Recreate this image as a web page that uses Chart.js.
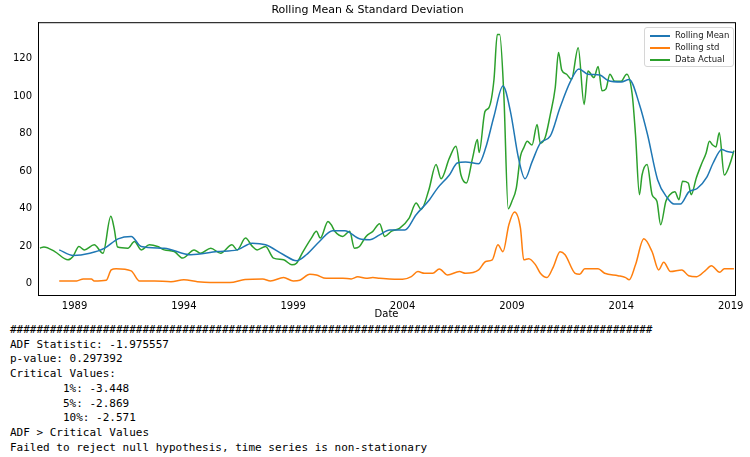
<!DOCTYPE html>
<html>
<head>
<meta charset="utf-8">
<script src="https://cdn.jsdelivr.net/npm/chart.js@4.4.1/dist/chart.umd.min.js"></script>
<style>
  body { margin: 0; background: #fff; width: 750px; height: 457px; overflow: hidden; font-family: "DejaVu Sans", sans-serif; }
  #wrap { position: relative; width: 750px; height: 320px; }
  #legend { position: absolute; left: 644px; top: 27px; width: 88px; height: 38px; border: 1px solid #d6d6d6; border-radius: 3px; background: rgba(255,255,255,0.85); font-size: 8.5px; color: #222; }
  .row { position: absolute; left: 5px; height: 12px; line-height: 12px; white-space: nowrap; }
  .row i { display: inline-block; width: 20px; height: 0; border-top: 2px solid; vertical-align: middle; margin-right: 5px; }
  pre { margin: 0; padding: 0 0 0 10px; font-family: "DejaVu Sans Mono", monospace; font-size: 11px; line-height: 14.7px; tab-size: 8; color: #000; margin-top: 3px; }
</style>
</head>
<body>
<div id="wrap">
  <canvas id="grafico" width="750" height="320"></canvas>
  <div id="legend">
    <div class="row" style="top:1px"><i style="border-color:#1f77b4"></i>Rolling Mean</div>
    <div class="row" style="top:13px"><i style="border-color:#ff7f0e"></i>Rolling std</div>
    <div class="row" style="top:25px"><i style="border-color:#2ca02c"></i>Data Actual</div>
  </div>
</div>
<pre>#################################################################################################
ADF Statistic: -1.975557
p-value: 0.297392
Critical Values:
	1%: -3.448
	5%: -2.869
	10%: -2.571
ADF &gt; Critical Values
Failed to reject null hypothesis, time series is non-stationary</pre>
<script>
const fechasActual = [1987.42,1987.6,1988.1,1988.7,1988.93,1989.2,1989.45,1989.9,1990.3,1990.66,1990.81,1990.97,1991.44,1991.74,1992.05,1992.42,1992.8,1993.1,1993.56,1993.94,1994.47,1994.77,1995.23,1995.68,1996.2,1996.44,1996.82,1997.12,1997.35,1997.73,1998.1,1998.56,1998.94,1999.15,1999.45,1999.83,2000.06,2000.24,2000.59,2000.74,2000.9,2001.27,2001.58,2001.8,2002.03,2002.33,2002.64,2002.95,2003.18,2003.5,2003.86,2004.3,2004.62,2004.85,2005.2,2005.53,2005.76,2006.14,2006.44,2006.67,2006.92,2007.2,2007.42,2007.5,2007.77,2007.95,2008.18,2008.33,2008.44,2008.63,2008.83,2009.0,2009.2,2009.39,2009.54,2009.7,2009.92,2010.15,2010.3,2010.52,2010.75,2010.98,2011.13,2011.28,2011.5,2011.72,2012.03,2012.3,2012.48,2012.75,2012.94,2013.12,2013.3,2013.48,2013.7,2013.98,2014.25,2014.5,2014.65,2014.83,2014.95,2015.18,2015.41,2015.63,2015.8,2016.04,2016.22,2016.45,2016.64,2016.8,2017.06,2017.2,2017.43,2017.66,2017.88,2018.03,2018.18,2018.33,2018.48,2018.71,2019.0,2019.15]
const valoresActual = [18.9,19.6,17.1,12.7,14.5,19.8,18,20.7,16.2,35.9,29.6,19.5,18.9,22.5,18,20.7,19.8,18,17.1,13.6,18,16.2,18.9,16.2,20.7,18,24.3,20,18,19.8,13.6,12.7,10,10.9,17.1,24.3,27.9,24.3,33.2,31.4,27.9,25.2,27.9,18.9,19.8,25.2,27.9,32,25.2,28,29.5,35,43,39.6,50,63.6,56,67,73.4,58,53.7,67,77,70,92,94,109,133,133,101,40,44,51,68,72.5,76,74,85,75,78,90,104.6,123.4,114,111.8,109,126,95.7,113.6,110,116,103,104,111.8,108,108,111.8,101,79.6,47.5,58,63.6,47.5,44,31.4,44,47.5,49,44.8,54.6,53.7,47.5,56.4,63.6,69.8,76,74,73,80.5,58,65,71]
const fechasMedia = [1988.3,1988.94,1989.7,1990.38,1990.99,1991.59,1992.05,1993.1,1994.32,1995.53,1996.44,1997.12,1997.73,1998.56,1999.15,1999.6,2000.2,2000.8,2001.36,2002.03,2002.5,2002.95,2003.41,2004.1,2004.62,2005.23,2005.6,2006.14,2006.5,2006.88,2007.48,2007.8,2008.18,2008.59,2008.93,2009.3,2009.6,2009.92,2010.3,2010.75,2011.2,2011.66,2012.06,2012.48,2013.01,2013.4,2014.0,2014.36,2014.83,2015.2,2015.66,2016.11,2016.41,2016.7,2017.09,2017.47,2017.92,2018.2,2018.6,2018.8,2019.15]
const valoresMedia = [18,15,16.2,18.9,23.9,25.2,19.8,18.9,15.4,17.1,18,21.6,20.7,15.4,12.2,15.4,22.5,28.2,28.2,23.9,23.4,26,28.6,28.6,36.8,44.8,51,58,64.4,65,64,72.5,89.4,105.5,92,67,56,65,75,78.7,94,107.6,114.6,111.8,111.4,108.5,107.7,109,95.7,79.6,55.5,45.7,42.5,42.5,49,50.8,57,64.4,71.6,70.7,70]
const fechasStd = [1988.3,1989.1,1989.4,1989.77,1989.9,1990.45,1990.68,1990.9,1991.59,1991.97,1992.65,1993.41,1994.0,1994.62,1995.2,1996.1,1996.8,1997.6,1997.96,1998.56,1999.0,1999.3,1999.76,2000.06,2000.5,2001.27,2001.65,2001.95,2002.33,2002.64,2002.95,2004.0,2004.4,2004.7,2005.0,2005.38,2005.68,2006.06,2006.6,2006.88,2007.48,2007.8,2008.1,2008.36,2008.59,2008.86,2009.12,2009.39,2009.54,2009.77,2010.08,2010.3,2010.6,2010.9,2011.2,2011.43,2011.89,2012.1,2012.33,2012.94,2013.24,2013.85,2014.2,2014.36,2014.65,2015.03,2015.41,2015.71,2015.94,2016.25,2016.77,2017.08,2017.45,2017.83,2018.12,2018.5,2018.71,2019.15]
const valoresStd = [1.4,1.4,2.5,2.5,1.4,1.8,7.3,7.9,6.8,1.4,1.4,1,2,1,0.6,0.6,2.2,2.5,1.4,3.2,1.4,1.8,5,4.6,2.8,2.8,2.5,3.6,2.8,3.2,2.9,2.3,3.7,6.4,5.5,5.5,7.8,4.6,6.4,5.5,7.3,11.8,12.7,20.7,17,31.4,38.2,29.6,12.7,13.3,10,5.5,3.2,9.1,17,15.4,5.5,5,7.9,7.9,5.5,4.2,3.2,2,10,23.9,17,7.3,11.4,6.4,7.3,4.2,3.7,6.8,9.5,6,7.9,7.9]
const ticksY = [0, 20, 40, 60, 80, 100, 120]
const etiquetasX = [1989, 1994, 1999, 2004, 2009, 2014, 2019]

const puntos = (fechas, valores) => fechas.map((f, i) => ({ x: f, y: valores[i] }))

const serie = (label, color, data) => ({
    label, data, borderColor: color, backgroundColor: color,
    borderWidth: 1.5, pointRadius: 0, cubicInterpolationMode: 'monotone', fill: false
})

new Chart(document.querySelector('#grafico'), {
    type: 'line',
    data: {
        datasets: [
            serie('Rolling Mean', '#1f77b4', puntos(fechasMedia, valoresMedia)),
            serie('Rolling std', '#ff7f0e', puntos(fechasStd, valoresStd)),
            serie('Data Actual', '#2ca02c', puntos(fechasActual, valoresActual))
        ]
    },
    options: {
        responsive: false,
        animation: false,
        layout: { padding: { left: 0, right: 15, top: 0, bottom: 0 } },
        plugins: {
            legend: { display: false },
            tooltip: { enabled: false },
            title: { display: true, text: 'Rolling Mean & Standard Deviation', color: '#000',
                font: { family: 'DejaVu Sans', size: 11, weight: 'normal' }, padding: { top: 4, bottom: 5 } }
        },
        scales: {
            x: {
                type: 'linear', min: 1987.33, max: 2019.2,
                afterBuildTicks: (s) => {
                    const t = []
                    for (let y = 1988; y <= 2019; y++) t.push({ value: y })
                    s.ticks = t
                },
                ticks: { autoSkip: false, maxRotation: 0, color: '#000', padding: 2,
                    font: { family: 'DejaVu Sans', size: 10 },
                    callback: (v) => etiquetasX.includes(v) ? String(v) : '' },
                grid: { display: false, drawTicks: true, tickLength: 3, tickColor: '#000' },
                border: { color: '#000', width: 1 },
                title: { display: true, text: 'Date', color: '#000', padding: 0,
                    font: { family: 'DejaVu Sans', size: 10 } },
                afterFit: (s) => { s.height = 25 }
            },
            y: {
                min: -6.1, max: 139.6,
                afterBuildTicks: (s) => { s.ticks = ticksY.map(v => ({ value: v })) },
                ticks: { color: '#000', padding: 3, font: { family: 'DejaVu Sans', size: 10 } },
                grid: { display: false, drawTicks: true, tickLength: 3, tickColor: '#000' },
                border: { color: '#000', width: 1 },
                afterFit: (s) => { s.width = 38 }
            }
        }
    },
    plugins: [{
        id: 'marco',
        afterDraw(c) {
            const a = c.chartArea, ctx = c.ctx
            ctx.save()
            ctx.strokeStyle = '#000'
            ctx.lineWidth = 1
            ctx.strokeRect(a.left + 0.5, a.top + 0.5, a.right - a.left, a.bottom - a.top)
            ctx.restore()
        }
    }]
})
</script>
</body>
</html>
